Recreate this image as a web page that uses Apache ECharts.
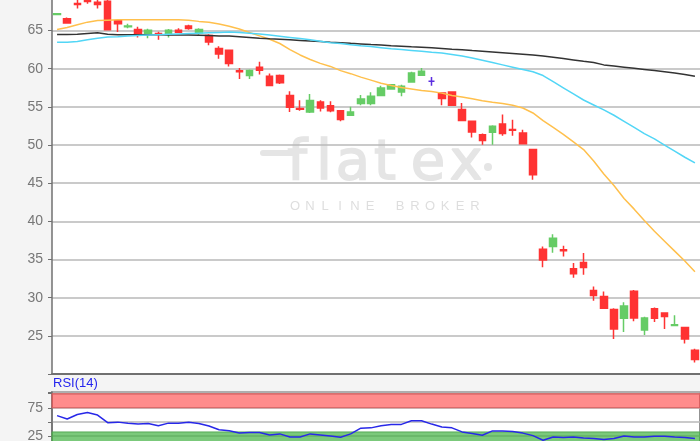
<!DOCTYPE html>
<html><head><meta charset="utf-8">
<script src="https://cdn.jsdelivr.net/npm/echarts@6/dist/echarts.min.js"></script>
<style>html,body{margin:0;padding:0;background:#f4f4f4;}#c{width:700px;height:441px;}</style>
</head><body><div id="c"></div>
<script>
const categories = ['1','2','3','4','5','6','7','8','9','10','11','12','13','14','15','16','17','18','19','20','21','22','23','24','25','26','27','28','29','30','31','32','33','34','35','36','37','38','39','40','41','42','43','44','45','46','47','48','49','50','51','52','53','54','55','56','57','58','59','60','61','62','63','64'];
// [open, close, low, high]
const candles = [
[67.1,67.2,67.05,67.25],[66.55,66.0,65.9,66.7],[68.55,68.4,67.9,69.1],[69.0,68.8,68.5,69.5],[68.7,68.4,67.9,69.3],
[68.85,65.1,65.0,69.0],[66.27,65.9,64.8,66.35],[65.5,65.6,65.3,65.9],[65.13,64.57,64.1,65.5],[64.57,65.04,64.0,65.25],
[64.62,64.5,63.8,64.85],[64.57,65.04,64.1,65.2],[65.04,64.78,64.7,65.3],[65.6,65.26,65.1,65.75],[64.7,65.13,64.45,65.3],
[64.34,63.5,63.07,64.5],[62.64,61.94,61.3,62.94],[62.42,60.67,60.3,62.5],[59.72,59.6,58.66,60.1],[59.1,59.75,58.66,59.9],
[60.19,59.8,59.23,60.9],[59.0,57.8,57.7,59.36],[59.1,58.15,58.0,59.25],[56.5,54.94,54.34,57.04],[54.78,54.68,54.5,55.86],
[54.34,55.82,54.2,56.7],[55.65,54.86,54.4,55.85],[55.16,54.5,54.3,55.75],[54.5,53.33,53.1,54.55],[53.9,54.34,53.9,55.0],
[55.43,56.04,55.2,56.55],[55.43,56.38,55.2,56.9],[56.5,57.48,56.5,57.75],[57.35,57.9,57.3,58.0],[56.96,57.7,56.4,57.9],
[58.27,59.45,58.2,59.6],[59.14,59.66,59.1,60.1],[58.35,58.35,57.75,58.9],[56.83,56.08,55.2,56.9],[56.96,55.2,55.1,57.0],
[54.64,53.2,53.1,55.5],[53.1,51.7,51.0,53.2],[51.36,50.6,50.05,51.5],[51.66,52.45,50.05,52.6],[52.76,51.5,51.2,54.0],
[52.05,51.95,51.2,53.3],[51.58,50.18,50.1,52.0],[49.4,46.1,45.46,49.5],[36.34,34.94,34.0,36.7],[36.7,37.8,35.9,38.3],
[36.28,36.15,35.4,36.8],[33.79,33.13,32.6,34.55],[34.6,33.96,33.0,35.85],[30.94,30.28,29.6,31.45],[30.15,28.63,28.5,30.8],
[28.45,25.9,24.6,28.6],[27.3,28.9,25.5,29.4],[30.85,27.35,26.9,31.0],[25.78,27.35,25.1,27.5],[28.55,27.3,26.8,28.7],
[27.98,27.53,25.9,28.1],[26.35,26.45,26.3,27.7],[26.1,24.6,24.0,26.2],[23.1,21.9,21.5,23.3]
];
const maOrange = [65.13,65.4,65.75,66.1,66.3,66.35,66.4,66.4,66.4,66.4,66.4,66.4,66.4,66.35,66.2,66.1,65.85,65.55,65.2,64.75,
64.3,63.85,63.3,62.5,61.8,61.2,60.7,60.3,59.75,59.35,58.9,58.5,58.1,57.8,57.55,57.35,57.15,57.0,56.8,56.5,
56.3,56.05,55.8,55.6,55.45,55.2,54.85,54.2,53.2,52.3,51.4,50.4,49.4,47.9,46.2,44.7,43.0,41.6,40.1,38.7,
37.4,36.1,34.8,33.4];
const maCyan = [63.45,63.45,63.55,63.8,64.0,64.15,64.2,64.3,64.35,64.4,64.45,64.5,64.55,64.6,64.65,64.7,64.75,64.8,64.75,64.65,
64.55,64.4,64.25,64.1,63.95,63.8,63.6,63.4,63.3,63.15,63.0,62.9,62.75,62.6,62.5,62.4,62.3,62.15,62.05,61.85,
61.65,61.4,61.1,60.8,60.5,60.2,59.9,59.6,59.1,58.3,57.5,56.7,55.9,55.25,54.6,53.9,53.1,52.3,51.5,50.8,
50.0,49.2,48.4,47.65];
const maBlack = [64.48,64.48,64.5,64.6,64.7,64.5,64.45,64.45,64.45,64.45,64.45,64.42,64.4,64.4,64.38,64.35,64.3,64.27,64.2,64.1,
64.0,63.92,63.85,63.78,63.7,63.62,63.55,63.47,63.4,63.32,63.25,63.17,63.1,63.0,62.93,62.86,62.8,62.73,62.65,62.56,
62.48,62.38,62.3,62.2,62.1,62.0,61.9,61.78,61.65,61.5,61.33,61.15,60.97,60.8,60.5,60.35,60.2,60.05,59.9,59.75,
59.6,59.45,59.25,59.0];
const rsi = [61,55,63,66.5,62,48.5,49.5,47.5,46,47,43,47.7,47.7,49.3,47.2,42.5,36,34,30,31,
31,26.8,28.6,23.2,23.2,28.6,26.8,25,22.7,28.6,38.8,39.3,43,45.4,45.5,51.8,51.8,46,41,39.3,
32.1,29.2,26.2,33.9,33.9,33,30,25.5,17.3,23.2,22.1,23.2,21.4,20.4,18.6,20.4,25,23.2,23.2,24.5,
24.5,23.2,22.1,20.4];
const priceTicks = [25,30,35,40,45,50,55,60,65];
const rsiTicks = [25,75];

const chart = echarts.init(document.getElementById('c'), null, {renderer:'canvas'});
const axisGray = '#707070';
const gridGray = '#b9b9b9';
const font = 'Liberation Sans, Arial, sans-serif';

// watermark letters (layout only)
const wm = [];
const logo = [['f',297],['l',324],['a',353],['t',385],['e',428],['x',466]];
logo.forEach(([ch,x]) => wm.push({type:'text', x:x, y:164, silent:true, z:0,
  style:{text:ch, fill:'#e5e5e5', stroke:'#e5e5e5', lineWidth:1.6, font:'56px DejaVu Sans', align:'center', verticalAlign:'middle'}}));
wm.push({type:'line', shape:{x1:263, y1:153, x2:296, y2:153}, style:{stroke:'#e5e5e5', lineWidth:6, lineCap:'round'}, silent:true, z:0});
wm.push({type:'circle', shape:{cx:488, cy:167, r:4}, style:{fill:'#e5e5e5'}, silent:true, z:0});
const sub = 'ONLINE BROKER';
for (let i=0;i<sub.length;i++){ if(sub[i]===' ') continue;
  wm.push({type:'text', x:295+i*15, y:206, silent:true, z:0,
    style:{text:sub[i], fill:'#dedede', font:'13px Liberation Sans', align:'center', verticalAlign:'middle'}});
}

chart.setOption({
  animation:false,
  backgroundColor:'#f4f4f4',
  grid:[
    {left:52, top:-7.625, width:648, height:381.625, show:true, backgroundColor:'#ffffff', borderWidth:0, outerBoundsMode:'none', containLabel:false},
    {left:52, top:392, width:648, height:58, show:true, backgroundColor:'#ffffff', borderColor:axisGray, borderWidth:1.5, outerBoundsMode:'none', containLabel:false}
  ],
  graphic:[
    {type:'group', z:1, children:wm},
    {type:'text', left:53, top:377, style:{text:'RSI(14)', fill:'#2525ee', font:'13px Liberation Sans'}}
  ],
  xAxis:[
    {type:'category', gridIndex:0, data:categories, axisLabel:{show:false}, axisTick:{show:false},
     axisLine:{show:true, lineStyle:{color:axisGray, width:2}}, splitLine:{show:false}},
    {type:'category', gridIndex:1, data:categories, axisLabel:{show:false}, axisTick:{show:false},
     axisLine:{show:false}, splitLine:{show:false}}
  ],
  yAxis:[
    {type:'value', gridIndex:0, min:20, max:70, interval:5, position:'left',
     axisLine:{show:true, lineStyle:{color:axisGray, width:1.5}},
     axisTick:{show:true, length:4, lineStyle:{color:axisGray}},
     axisLabel:{color:'#777', fontSize:14, fontFamily:font, margin:9,
       formatter:v => priceTicks.includes(v) ? String(v) : ''},
     splitLine:{show:true, lineStyle:{color:gridGray, width:1.5}}},
    {type:'value', gridIndex:1, min:0, max:103, interval:25,
     axisLine:{show:true, lineStyle:{color:axisGray, width:1.5}},
     axisTick:{show:true, length:4, lineStyle:{color:axisGray}},
     axisLabel:{color:'#777', fontSize:14, fontFamily:font, margin:9,
       formatter:v => rsiTicks.includes(v) ? String(v) : ''},
     splitLine:{show:true, lineStyle:{color:gridGray, width:1.5}}}
  ],
  series:[
    {type:'candlestick', xAxisIndex:0, yAxisIndex:0, data:candles, barWidth:7, z:3,
     itemStyle:{color:'#66cc66', color0:'#ff3333', borderColor:'#66cc66', borderColor0:'#ff3333',
       borderColorDoji:'#5b2ee0', borderWidth:1.5}},
    {type:'line', xAxisIndex:0, yAxisIndex:0, data:maOrange, symbol:'none', z:4,
     lineStyle:{color:'#ffc04d', width:1.5}},
    {type:'line', xAxisIndex:0, yAxisIndex:0, data:maBlack, symbol:'none', z:4,
     lineStyle:{color:'#333333', width:1.5}},
    {type:'line', xAxisIndex:0, yAxisIndex:0, data:maCyan, symbol:'none', z:4,
     lineStyle:{color:'#52d6f6', width:1.5}},
    {type:'line', xAxisIndex:1, yAxisIndex:1, data:rsi, symbol:'none', z:4,
     lineStyle:{color:'#2828e8', width:1.5},
     markArea:{silent:true, data:[
       [{yAxis:75, itemStyle:{color:'rgba(255,70,70,0.62)', borderColor:'#d86060', borderWidth:1}},{yAxis:100}],
       [{yAxis:0, itemStyle:{color:'rgba(60,175,60,0.68)', borderColor:'#55aa55', borderWidth:1}},{yAxis:32}]
     ]}}
  ]
});
</script></body></html>
